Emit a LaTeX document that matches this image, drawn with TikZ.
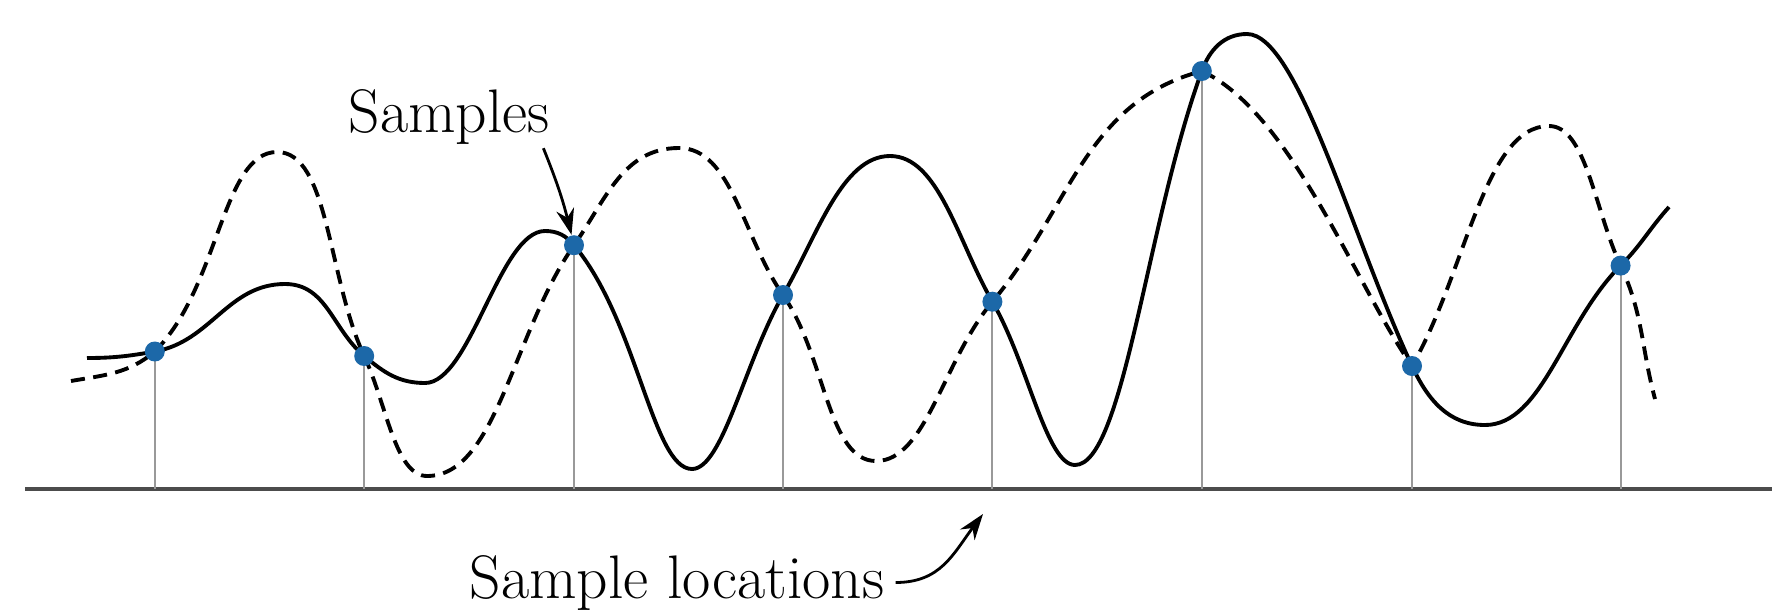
\documentclass[tikz,border=0pt]{standalone}
\usepackage{xcolor}
\usepackage{tikz}
\usetikzlibrary{arrows.meta,positioning,calc}
\definecolor{smblue}{RGB}{28,104,168}
\tikzset{
  smaxis/.style={draw=black!70, line width=1.2pt},
  smstem/.style={draw=black!40, line width=0.6pt},
  smsolid/.style={draw=black, line width=1.1pt},
  smdashed/.style={draw=black, line width=1.1pt, dash pattern=on 4pt off 2.4pt},
  smdot/.style={circle, fill=smblue, inner sep=0pt, minimum size=2mm},
  smarrow/.style={-{Stealth[length=2.6mm,width=1.8mm]}, line width=0.8pt},
  smlabel/.style={font=\fontsize{17.5}{20}\selectfont, inner sep=0pt}
}
\begin{document}
\begin{tikzpicture}
  \useasboundingbox (0,0) rectangle (17.72,6.11);

  % axis and sample positions
  \coordinate (axl) at (0.25,1.217);
  \coordinate (axr) at (17.72,1.217);
  \coordinate (p1) at (1.548,2.595);
  \coordinate (p2) at (3.642,2.55);
  \coordinate (p3) at (5.740,3.658);
  \coordinate (p4) at (7.830,3.16);
  \coordinate (p5) at (9.924,3.093);
  \coordinate (p6) at (12.018,5.40);
  \coordinate (p7) at (14.12,2.45);
  \coordinate (p8) at (16.206,3.454);

  \draw[smaxis] (axl) -- (axr);
  \draw[smstem] (p1) -- (p1 |- axl);
  \draw[smstem] (p2) -- (p2 |- axl);
  \draw[smstem] (p3) -- (p3 |- axl);
  \draw[smstem] (p4) -- (p4 |- axl);
  \draw[smstem] (p5) -- (p5 |- axl);
  \draw[smstem] (p6) -- (p6 |- axl);
  \draw[smstem] (p7) -- (p7 |- axl);
  \draw[smstem] (p8) -- (p8 |- axl);

  % dashed signal
  \draw[smdashed] (0.71,2.30) to[out=10,in=220] (p1)
    to[out=45,in=180,in looseness=0.6] (2.77,4.59)
    to[out=0,in=115,out looseness=0.6] (p2)
    to[out=-65,in=180,in looseness=0.6] (4.27,1.35)
    to[out=0,in=235,out looseness=0.65] (p3)
    to[out=55,in=180] (6.79,4.63)
    to[out=0,in=125,out looseness=0.75] (p4)
    to[out=-55,in=180,in looseness=0.65] (8.76,1.50)
    to[out=0,in=230,out looseness=0.65] (p5)
    to[out=50,in=195] (p6)
    to[out=-25,in=125,looseness=0.7] (p7)
    to[out=60,in=180,in looseness=0.6] (15.49,4.85)
    to[out=0,in=115,out looseness=0.6] (p8)
    to[out=-65,in=105] (16.55,2.12);

  % solid signal
  \draw[smsolid] (0.87,2.53) to[out=0,in=190] (p1)
    to[out=10,in=180] (2.85,3.27)
    to[out=0,in=140] (p2)
    to[out=-40,in=180] (4.25,2.28)
    to[out=0,in=180,looseness=0.6] (5.45,3.80)
    to[out=0,in=130] (p3)
    to[out=-50,in=180,in looseness=0.4] (6.92,1.42)
    to[out=0,in=240,out looseness=0.4] (p4)
    to[out=60,in=180,in looseness=0.7] (8.9,4.55)
    to[out=0,in=120,out looseness=0.7] (p5)
    to[out=-60,in=180,in looseness=0.4] (10.75,1.46)
    to[out=0,in=250,out looseness=0.3] (p6)
    to[out=70,in=180] (12.47,5.77)
    to[out=0,in=115,out looseness=0.35] (p7)
    to[out=-65,in=180] (14.85,1.86)
    to[out=0,in=225,out looseness=0.7] (p8)
    to[out=45,in=228] (16.69,4.04);

  \node[smdot] (s1) at (p1) {};
  \node[smdot] (s2) at (p2) {};
  \node[smdot] (s3) at (p3) {};
  \node[smdot] (s4) at (p4) {};
  \node[smdot] (s5) at (p5) {};
  \node[smdot] (s6) at (p6) {};
  \node[smdot] (s7) at (p7) {};
  \node[smdot] (s8) at (p8) {};

  % labels
  \node[smlabel, anchor=base west] (samplbl) at (3.48,4.79) {Samples};
  \draw[smarrow] ([xshift=-2pt,yshift=-1pt]samplbl.south east) to[bend left=4] (s3);

  \node[smlabel, anchor=base] (loclbl) at (6.77,0.13) {Sample locations};
  \coordinate (loctip) at (9.83,0.97);
  \draw[smarrow] ([xshift=3pt]loclbl.east) .. controls +(0.45,0) and +(-0.3,-0.4) .. (loctip);
\end{tikzpicture}
\end{document}
